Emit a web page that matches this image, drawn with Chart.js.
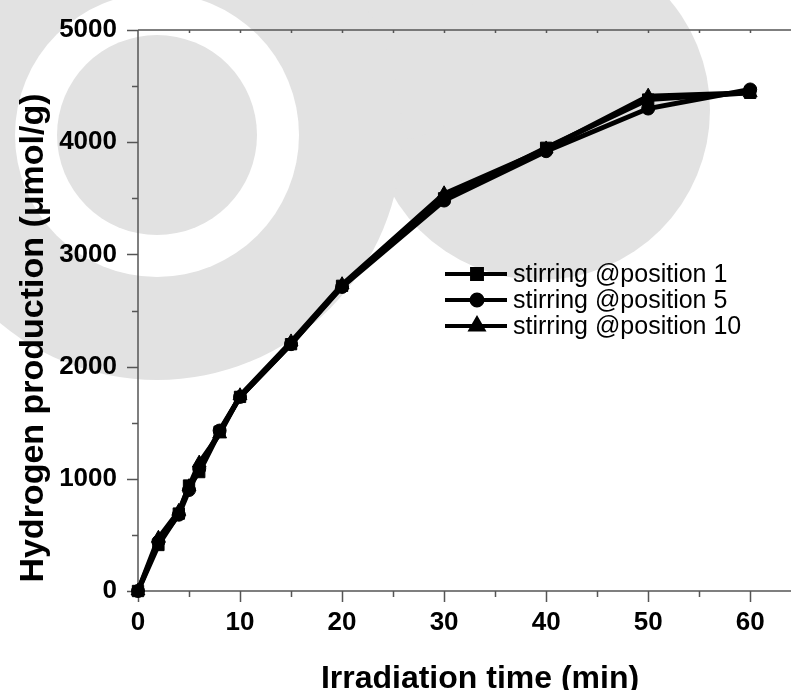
<!DOCTYPE html>
<html>
<head>
<meta charset="utf-8">
<script src="https://cdn.jsdelivr.net/npm/chart.js@4.4.1/dist/chart.umd.min.js"></script>
<style>
  html, body { margin: 0; padding: 0; background: #fff; }
  #wrap { width: 800px; height: 690px; }
</style>
</head>
<body>
<div id="wrap"><canvas id="h2Chart" width="800" height="690"></canvas></div>
<script>
// values
const irradiationTime = [0, 2, 4, 5, 6, 8, 10, 15, 20, 30, 40, 50, 60];
const position1 = [0, 410, 690, 940, 1060, 1420, 1730, 2200, 2720, 3500, 3950, 4380, 4440];
const position5 = [0, 440, 680, 900, 1090, 1430, 1730, 2200, 2710, 3480, 3920, 4300, 4470];
const position10 = [0, 470, 710, 930, 1140, 1400, 1740, 2220, 2730, 3540, 3940, 4410, 4440];
const seriesNames = ['stirring @position 1', 'stirring @position 5', 'stirring @position 10'];
const markers = ['rect', 'circle', 'triangle'];

const xTicks = [0, 10, 20, 30, 40, 50, 60];
const yTicks = [0, 1000, 2000, 3000, 4000, 5000];
const xTitle = 'Irradiation time (min)';
const yTitle = 'Hydrogen production (μmol/g)';

const axisColor = '#555';
const fontFamily = '"Liberation Sans", Arial, sans-serif';

function toPoints(ys) {
  return irradiationTime.map((t, i) => ({ x: t, y: ys[i] }));
}

// faint logo watermark behind the plot
const watermark = {
  id: 'watermark',
  beforeDraw(chart) {
    const ctx = chart.ctx;
    ctx.save();
    ctx.fillStyle = '#fff';
    ctx.fillRect(0, 0, chart.width, chart.height);
    const grey = '#e2e2e2';
    function disk(x, y, r, c) {
      ctx.beginPath();
      ctx.arc(x, y, r, 0, Math.PI * 2);
      ctx.fillStyle = c;
      ctx.fill();
    }
    disk(540, 110, 170, grey);
    disk(395, 50, 90, grey);
    disk(157, 135, 245, grey);
    disk(157, 135, 142, '#fff');
    disk(157, 135, 100, grey);
    ctx.restore();
  }
};

// axis lines, major/minor ticks and axis titles
const axesDecor = {
  id: 'axesDecor',
  beforeDatasetsDraw(chart) {
    const ctx = chart.ctx;
    const x = chart.scales.x, y = chart.scales.y;
    const area = chart.chartArea;
    ctx.save();
    ctx.strokeStyle = axisColor;
    ctx.lineWidth = 1.5;
    ctx.beginPath();
    ctx.moveTo(area.left, area.top);
    ctx.lineTo(area.right, area.top);
    ctx.moveTo(area.left, area.top);
    ctx.lineTo(area.left, area.bottom);
    ctx.lineTo(area.right, area.bottom);
    for (let v = 0; v <= x.max; v += 5) {
      const px = Math.round(x.getPixelForValue(v)) + 0.5;
      const len = v % 10 === 0 ? 11 : 6;
      ctx.moveTo(px, area.bottom);
      ctx.lineTo(px, area.bottom + len);
      if (v > 0) {
        ctx.moveTo(px, area.top);
        ctx.lineTo(px, area.top + 3);
      }
    }
    for (let v = 0; v <= y.max; v += 500) {
      const py = Math.round(y.getPixelForValue(v)) + 0.5;
      const len = v % 1000 === 0 ? 11 : 6;
      ctx.moveTo(area.left, py);
      ctx.lineTo(area.left - len, py);
    }
    ctx.stroke();

    ctx.fillStyle = '#000';
    ctx.textAlign = 'center';
    ctx.textBaseline = 'alphabetic';
    ctx.font = 'bold 32px ' + fontFamily;
    ctx.fillText(xTitle, 480, 688);
    ctx.translate(43, 338);
    ctx.rotate(-Math.PI / 2);
    ctx.font = 'bold 34px ' + fontFamily;
    ctx.fillText(yTitle, 0, 0);
    ctx.restore();
  }
};

// legend drawn inside the plot, line + marker + label
const insideLegend = {
  id: 'insideLegend',
  afterDraw(chart) {
    const ctx = chart.ctx;
    ctx.save();
    ctx.font = '25px ' + fontFamily;
    ctx.textBaseline = 'middle';
    ctx.textAlign = 'left';
    chart.data.datasets.forEach((ds, i) => {
      const yy = 274 + i * 26;
      ctx.strokeStyle = '#000';
      ctx.lineWidth = 4;
      ctx.beginPath();
      ctx.moveTo(445, yy);
      ctx.lineTo(507, yy);
      ctx.stroke();
      ctx.fillStyle = '#000';
      Chart.helpers.drawPoint(ctx, { pointStyle: ds.pointStyle, radius: ds.pointRadius - 1, borderWidth: 1, rotation: 0 }, 477, yy);
      ctx.fill();
      ctx.fillText(ds.label, 513, yy + 1);
    });
    ctx.restore();
  }
};

const seriesValues = [position1, position5, position10];

new Chart(document.getElementById('h2Chart'), {
  type: 'line',
  data: {
    datasets: seriesValues.map((vals, i) => ({
      label: seriesNames[i],
      data: toPoints(vals),
      borderColor: '#000',
      backgroundColor: '#000',
      borderWidth: 5,
      pointStyle: markers[i],
      pointRadius: markers[i] === 'circle' ? 6.5 : 8,
      pointBackgroundColor: '#000',
      pointBorderColor: '#000',
      pointBorderWidth: 1,
      tension: 0,
      clip: false
    }))
  },
  options: {
    responsive: false,
    animation: false,
    devicePixelRatio: 1,
    layout: { padding: { top: 30, right: 0, left: 0, bottom: 0 } },
    plugins: {
      legend: { display: false },
      tooltip: { enabled: false }
    },
    scales: {
      x: {
        type: 'linear',
        min: 0,
        max: 64,
        afterBuildTicks: (s) => { s.ticks = xTicks.map(v => ({ value: v })); },
        afterFit: (s) => { s.height = 99; },
        grid: { display: false, drawTicks: true, tickLength: 16 },
        border: { display: false },
        ticks: {
          padding: 0,
          color: '#000',
          maxRotation: 0,
          callback: (v) => String(v),
          font: { family: fontFamily, size: 26, weight: 'bold' }
        }
      },
      y: {
        type: 'linear',
        min: 0,
        max: 5000,
        afterBuildTicks: (s) => { s.ticks = yTicks.map(v => ({ value: v })); },
        afterFit: (s) => { s.width = 138; },
        grid: { display: false, drawTicks: true, tickLength: 21 },
        border: { display: false },
        ticks: {
          padding: 0,
          color: '#000',
          callback: (v) => String(v),
          font: { family: fontFamily, size: 26, weight: 'bold' }
        }
      }
    }
  },
  plugins: [watermark, axesDecor, insideLegend]
});
</script>
</body>
</html>
